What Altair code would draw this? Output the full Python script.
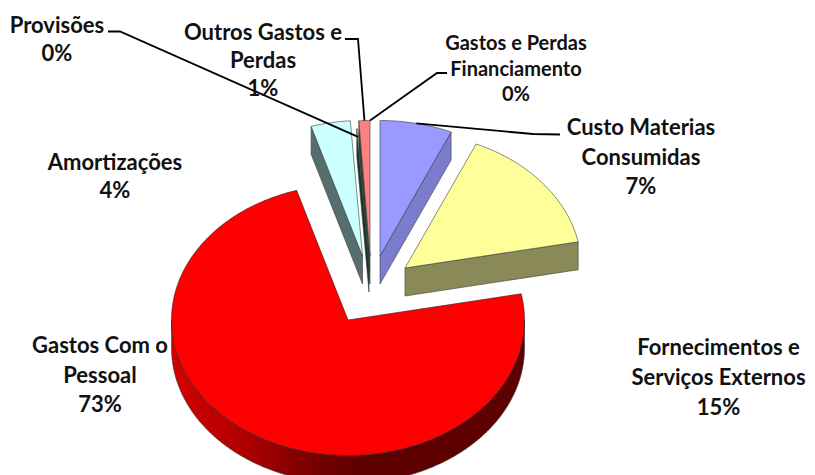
import math
import altair as alt
import pandas as pd

# ---- chart values ----
categories = ["Custo Materias Consumidas", "Fornecimentos e Serviços Externos", "Gastos Com o Pessoal",
              "Amortizações", "Provisões", "Outros Gastos e Perdas", "Gastos e Perdas Financiamento"]
shares = [6.6, 15.3, 73.4, 3.6, 0.1, 1.0, 0.0]
label_lines = [["Custo Materias", "Consumidas"], ["Fornecimentos e", "Serviços Externos"], ["Gastos Com o", "Pessoal"],
               ["Amortizações"], ["Provisões"], ["Outros Gastos e", "Perdas"], ["Gastos e Perdas", "Financiamento"]]

# ---- styles ----
top_colors = ["#9999ff", "#ffff99", "#ff0000", "#ccffff", "#e8fff0", "#ff8080", "#ffffff"]
side_colors = ["#7c7cce", "#8a8a58", "#600000", "#566e6e", "#0c3a26", "#33403a", "#555555"]

# ---- layout (reference-pixel frame) ----
RX, RY, DEPTH = 176.5, 135.5, 28
apex = [(380, 256), (405, 268), (348, 320), (362.5, 256), (369, 264), (370, 256), (370, 256)]
paint_order = [3, 4, 5, 6, 0, 1, 2]
label_pos = [(641, 128, 20), (718.5, 348, 20), (100, 346, 20), (115, 163, 20), (57, 26, 20), (263, 32.5, 20), (516, 44, 18)]
LINE_GAP = [29.5, 30, 29.5, 28, 28, 28, 25.5]
elbows = {0: [(560, 134.5), (533, 134)], 4: [(108, 31.5), (120, 31.5)], 5: [(345, 39), (358, 39)], 6: [(447, 73), (437, 73)]}
leader_fraction = {0: 1.0, 4: 0.94, 5: 1.0, 6: 1.0}

X = alt.Scale(domain=[8, 807], nice=False, zero=False)
Y = alt.Scale(domain=[475, 8], nice=False, zero=False)


def point(i, theta, frac=1.0, dy=0.0):
    a = math.radians(theta)
    return (apex[i][0] + frac * RX * math.sin(a), apex[i][1] - frac * RY * math.cos(a) + dy)


def poly(pts, fill, stroke="#3a3a3a", width=0.6):
    df = pd.DataFrame({"x": [p[0] for p in pts], "y": [p[1] for p in pts], "i": range(len(pts))})
    return alt.Chart(df).mark_line(fill=fill, stroke=stroke, strokeWidth=width, clip=True, strokeJoin="round").encode(
        x=alt.X("x:Q", scale=X, axis=None),
        y=alt.Y("y:Q", scale=Y, axis=None),
        order="i:Q",
    )


def arc_pts(i, t0, t1, dy=0.0):
    n = max(2, int(abs(t1 - t0) * 1.5) + 2)
    return [point(i, t0 + (t1 - t0) * k / (n - 1), dy=dy) for k in range(n)]


red_side = alt.LinearGradient(
    gradient="linear", x1=0, x2=1, y1=0, y2=0,
    stops=[
        alt.GradientStop(offset=0, color="#d40000"),
        alt.GradientStop(offset=0.2, color="#b00000"),
        alt.GradientStop(offset=0.4, color="#780000"),
        alt.GradientStop(offset=0.52, color="#600000"),
        alt.GradientStop(offset=1, color="#5c0000"),
    ],
)

# cumulative angles, clockwise from the top
angles = []
cum = 0.0
for s in shares:
    angles.append((cum * 3.6, (cum + s) * 3.6))
    cum += s

layers = []
for i in paint_order:
    t0, t1 = angles[i]
    if t1 - t0 < 0.01:
        continue
    c = apex[i]
    side = side_colors[i]
    # radial faces turned to the viewer
    if math.sin(math.radians(t1)) > 0:
        e = point(i, t1)
        layers.append(poly([c, e, (e[0], e[1] + DEPTH), (c[0], c[1] + DEPTH), c], side))
    if math.sin(math.radians(t0)) < 0:
        e = point(i, t0)
        layers.append(poly([c, e, (e[0], e[1] + DEPTH), (c[0], c[1] + DEPTH), c], side))
    # outer wall, front half only
    lo, hi = max(t0, 90), min(t1, 270)
    if hi > lo:
        front = arc_pts(i, lo, hi)
        back = arc_pts(i, hi, lo, dy=DEPTH)
        layers.append(poly(front + back + [front[0]], red_side if i == 2 else side))
    # top face
    pts = [c] + arc_pts(i, t0, t1) + [c]
    layers.append(poly(pts, top_colors[i], stroke="#222222" if i == 2 else "#3a3a3a"))

# leader lines
for i, (a, b) in elbows.items():
    t = (angles[i][0] + angles[i][1]) / 2
    end = point(i, t, frac=leader_fraction[i])
    df = pd.DataFrame({"x": [a[0], b[0], end[0]], "y": [a[1], b[1], end[1]], "i": [0, 1, 2]})
    layers.append(alt.Chart(df).mark_line(color="black", strokeWidth=1.8).encode(
        x=alt.X("x:Q", scale=X, axis=None), y=alt.Y("y:Q", scale=Y, axis=None), order="i:Q"))

# labels
rows = []
for i, lines in enumerate(label_lines):
    x, y, size = label_pos[i]
    texts = lines + [f"{round(shares[i])}%"]
    for k, t in enumerate(texts):
        rows.append({"x": x, "y": y + k * LINE_GAP[i], "t": t, "s": size})
labels = pd.DataFrame(rows)
for size, font_size in [(20, 22), (18, 20)]:
    layers.append(alt.Chart(labels[labels.s == size]).mark_text(
        font="Lato", fontWeight="bold", fontSize=font_size, color="#111111", baseline="middle", align="center"
    ).encode(
        x=alt.X("x:Q", scale=X, axis=None), y=alt.Y("y:Q", scale=Y, axis=None), text="t:N"))

chart = alt.layer(*layers).properties(
    width=799, height=467, padding=0, autosize=alt.AutoSizeParams(type="none")
).configure_view(stroke=None)

chart.save("out.html", embed_options={"renderer": "svg", "actions": False})
